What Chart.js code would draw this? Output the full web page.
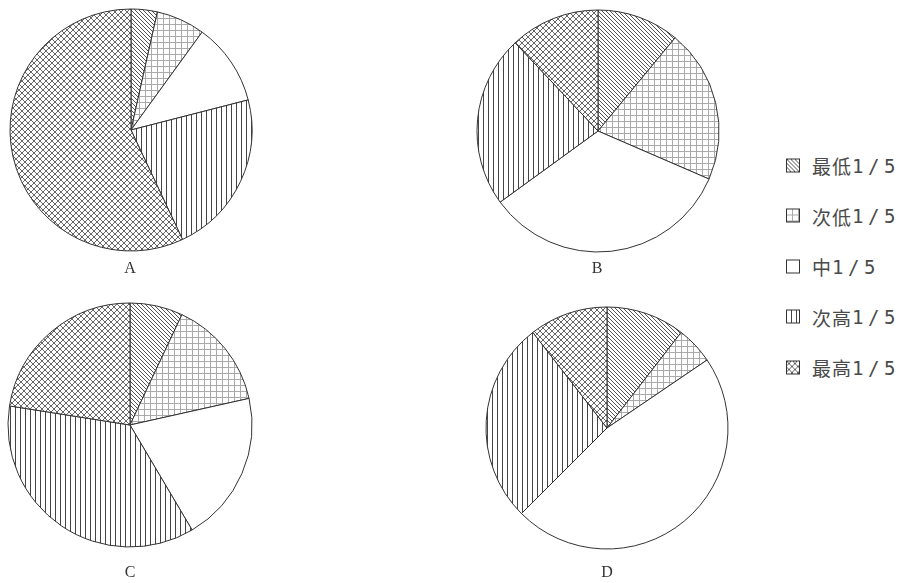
<!DOCTYPE html>
<html><head><meta charset="utf-8">
<script src="https://cdn.jsdelivr.net/npm/chart.js@4"></script>
<style>
body{margin:0;background:#fff;width:910px;height:583px;position:relative;overflow:hidden}
canvas.pie{position:absolute}
.lab{position:absolute;font-family:"Liberation Serif",serif;font-size:16px;color:#333;transform:translate(-50%,-50%);line-height:1}
.leg{position:absolute;left:786px;font-family:"Noto Sans CJK SC",sans-serif;font-size:19px;color:#4a4a4a;display:flex;align-items:center;transform:translateY(-50%);white-space:nowrap}
.leg canvas{margin-right:12px}
.leg .cjk{letter-spacing:1px}
.leg .num{font-family:"DejaVu Sans Mono",monospace;font-size:19px;letter-spacing:4.5px}
</style></head><body>
<script>
const categories = ['最低1/5','次低1/5','中1/5','次高1/5','最高1/5'];
const pieLabels = ['A','B','C','D'];
const valuesA = [3.5, 6.5, 11, 22, 57];
const valuesB = [11, 20.5, 33.5, 23, 12];
const valuesC = [7, 14.5, 20, 36, 22.5];
const valuesD = [10.5, 5, 47, 27, 10.5];

function tile(size, draw){
  const c=document.createElement('canvas');c.width=size;c.height=size;
  const x=c.getContext('2d');x.fillStyle='#fff';x.fillRect(0,0,size,size);draw(x,size);return c;
}
function diag(x,s,dir){
  x.beginPath();
  for(let k=-1;k<=1;k++){
    if(dir>0){x.moveTo(-1,-1+k*s);x.lineTo(s+1,s+1+k*s);}
    else{x.moveTo(-1,s+1+k*s);x.lineTo(s+1,-1+k*s);}
  }
  x.stroke();
}
const tiles=[
  tile(4,(x,s)=>{x.strokeStyle='#555';x.lineWidth=1;diag(x,s,1);}),
  tile(6,(x,s)=>{x.strokeStyle='#aaa';x.lineWidth=1;x.beginPath();x.moveTo(0,0.5);x.lineTo(s,0.5);x.moveTo(0.5,0);x.lineTo(0.5,s);x.stroke();}),
  tile(4,(x,s)=>{}),
  tile(5,(x,s)=>{x.strokeStyle='#444';x.lineWidth=1;x.beginPath();x.moveTo(0.5,0);x.lineTo(0.5,s);x.stroke();}),
  tile(6,(x,s)=>{x.strokeStyle='#666';x.lineWidth=1;diag(x,s,1);diag(x,s,-1);})
];
function patterns(ctx){return tiles.map(t=>ctx.createPattern(t,'repeat'));}

const pies=[
  {vals:valuesA,cx:131,cy:130,r:121,lx:130,ly:268},
  {vals:valuesB,cx:598,cy:131,r:121,lx:597,ly:268},
  {vals:valuesC,cx:130,cy:425,r:122,lx:130,ly:572},
  {vals:valuesD,cx:607,cy:428,r:121,lx:607,ly:572}
];
pies.forEach((p,i)=>{
  const S=260;
  const cv=document.createElement('canvas');cv.className='pie';cv.width=S;cv.height=S;
  cv.style.left=(p.cx-S/2)+'px';cv.style.top=(p.cy-S/2)+'px';cv.style.width=S+'px';cv.style.height=S+'px';
  document.body.appendChild(cv);
  const ctx=cv.getContext('2d');
  new Chart(ctx,{type:'pie',data:{labels:categories,datasets:[{data:p.vals,backgroundColor:patterns(ctx),borderColor:'#333',borderWidth:1}]},
    options:{responsive:false,devicePixelRatio:1,animation:false,radius:p.r,layout:{padding:0},
      plugins:{legend:{display:false},tooltip:{enabled:false}}}});
  const l=document.createElement('div');l.className='lab';l.textContent=pieLabels[i];
  l.style.left=p.lx+'px';l.style.top=p.ly+'px';document.body.appendChild(l);
});
categories.forEach((c,i)=>{
  const d=document.createElement('div');d.className='leg';d.style.top=(165+i*50.5)+'px';
  const sw=document.createElement('canvas');sw.width=14;sw.height=14;
  const x=sw.getContext('2d');x.fillStyle=x.createPattern(tiles[i],'repeat');x.fillRect(0,0,14,14);
  x.strokeStyle='#333';x.lineWidth=1;x.strokeRect(0.5,0.5,13,13);
  d.appendChild(sw);
  const m=c.match(/^([^0-9]+)(.*)$/);
  const a=document.createElement('span');a.className='cjk';a.textContent=m[1];d.appendChild(a);
  const b=document.createElement('span');b.className='num';b.textContent=m[2];d.appendChild(b);
  document.body.appendChild(d);
});
</script>
</body></html>
